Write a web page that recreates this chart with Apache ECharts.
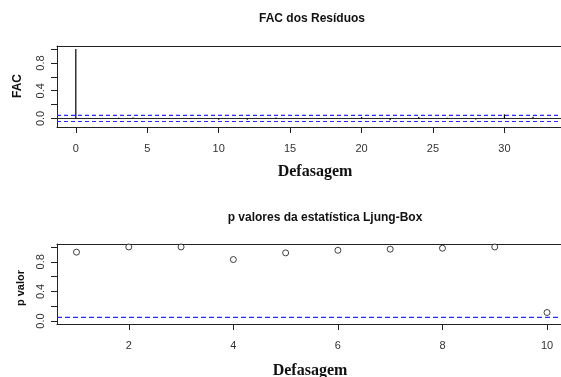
<!DOCTYPE html>
<html>
<head>
<meta charset="utf-8">
<script src="https://cdn.jsdelivr.net/npm/echarts@6/dist/echarts.min.js"></script>
<style>html,body{margin:0;padding:0;background:#fff}#c{width:561px;height:377px}</style>
</head>
<body>
<div id="c"></div>
<script>
// ---- data ----
const acfLags = [0,1,2,3,4,5,6,7,8,9,10,11,12,13,14,15,16,17,18,19,20,21,22,23,24,25,26,27,28,29,30,31,32,33];
const acfValues = [1.0,0.002,-0.003,0.01,0.015,0.0,-0.004,0.003,0.005,-0.002,-0.02,0.001,-0.02,0.002,0.015,0.0,0.004,-0.003,0.002,0.001,0.02,-0.002,-0.025,0.003,0.02,0.001,0.01,-0.002,-0.015,0.002,0.06,0.001,0.025,0.003];
const acfLimit = 0.044;
const acfXTicks = [0,5,10,15,20,25,30];
const yTicks = [0,0.2,0.4,0.6,0.8,1.0];
const yLabels = [0,0.4,0.8];
const pLags = [1,2,3,4,5,6,7,8,9,10];
const pValues = [0.93,1.0,1.0,0.83,0.92,0.955,0.97,0.983,1.0,0.115];
const pLimit = 0.05;
const pXTicks = [2,4,6,8,10];
const title1 = 'FAC dos Resíduos';
const title2 = 'p valores da estatística Ljung-Box';
const xName = 'Defasagem';
const yName1 = 'FAC';
const yName2 = 'p valor';

// axis extents
const acfXMin = -1.317, acfXMax = 33.96, acfYMin = -0.123, acfYMax = 1.045;
const pXMin = 0.627, pXMax = 10.267, pYMin = -0.04, pYMax = 1.04;

const chart = echarts.init(document.getElementById('c'), null, {renderer:'canvas'});
const axisCol = '#222';
const labelStyle = {color:'#333', fontFamily:'Liberation Sans, Arial, sans-serif', fontSize:11};
const blue = '#2b2bff';

function bottomX(gi, min, max, ticks){
  return {type:'value', gridIndex:gi, position:'bottom', min:min, max:max,
    axisLine:{show:true, onZero:false, lineStyle:{color:axisCol, width:1}},
    axisTick:{show:true, length:6, customValues:ticks, lineStyle:{color:axisCol}},
    axisLabel:Object.assign({show:true, margin:16, customValues:ticks}, labelStyle),
    splitLine:{show:false}};
}
function topX(gi, min, max){
  return {type:'value', gridIndex:gi, position:'top', min:min, max:max,
    axisLine:{show:true, onZero:false, lineStyle:{color:axisCol, width:1}},
    axisTick:{show:false}, axisLabel:{show:false}, splitLine:{show:false}};
}
function leftY(gi, min, max){
  return {type:'value', gridIndex:gi, min:min, max:max,
    axisLine:{show:true, onZero:false, lineStyle:{color:axisCol, width:1}},
    axisTick:{show:true, length:6, customValues:yTicks, lineStyle:{color:axisCol}},
    axisLabel:Object.assign({show:true, margin:11, rotate:90, customValues:yLabels,
      formatter:v=>Number(v).toFixed(1)}, labelStyle),
    splitLine:{show:false}};
}
function hLine(xi, yi, xmin, xmax, y, color, type, w){
  return {type:'line', xAxisIndex:xi, yAxisIndex:yi, data:[[xmin,y],[xmax,y]],
    showSymbol:false, symbol:'none', silent:true, z:3,
    lineStyle:{color:color, type:type, width:w}, itemStyle:{color:color}};
}

const option = {
  animation:false,
  backgroundColor:'#fff',
  grid:[
    {left:57, top:46, right:-5, height:81, containLabel:false},
    {left:57, top:244, right:-5, height:80, containLabel:false}
  ],
  xAxis:[
    bottomX(0, acfXMin, acfXMax, acfXTicks),
    topX(0, acfXMin, acfXMax),
    bottomX(1, pXMin, pXMax, pXTicks),
    topX(1, pXMin, pXMax)
  ],
  yAxis:[
    leftY(0, acfYMin, acfYMax),
    leftY(1, pYMin, pYMax)
  ],
  series:[
    hLine(0, 0, acfXMin, acfXMax, 0, '#222', 'solid', 1),
    hLine(0, 0, acfXMin, acfXMax, acfLimit, blue, [4,3], 1.2),
    hLine(0, 0, acfXMin, acfXMax, -acfLimit, blue, [4,3], 1.2),
    {type:'bar', xAxisIndex:0, yAxisIndex:0, barWidth:1.2, z:4,
      data:acfLags.map((l,i)=>[l, acfValues[i]]),
      itemStyle:{color:'#000'}},
    hLine(2, 1, pXMin, pXMax, pLimit, blue, [5,3], 1.2),
    {type:'scatter', xAxisIndex:2, yAxisIndex:1, symbol:'circle', symbolSize:6, z:4,
      data:pLags.map((l,i)=>[l, pValues[i]]),
      itemStyle:{color:'#fff', borderColor:'#111', borderWidth:1}}
  ],
  graphic:[
    {type:'text', x:312, y:19, style:{text:title1, textAlign:'center', textVerticalAlign:'middle', font:'bold 12px "Liberation Sans", Arial, sans-serif', fill:'#111'}},
    {type:'text', x:325, y:218, style:{text:title2, textAlign:'center', textVerticalAlign:'middle', font:'bold 12px "Liberation Sans", Arial, sans-serif', fill:'#111'}},
    {type:'text', x:315, y:172, style:{text:xName, textAlign:'center', textVerticalAlign:'middle', font:'bold 16px "Liberation Serif", "Times New Roman", serif', fill:'#111'}},
    {type:'text', x:310, y:371, style:{text:xName, textAlign:'center', textVerticalAlign:'middle', font:'bold 16px "Liberation Serif", "Times New Roman", serif', fill:'#111'}},
    {type:'text', x:18, y:86, rotation:Math.PI/2, style:{text:yName1, textAlign:'center', textVerticalAlign:'middle', font:'bold 12px "Liberation Sans", Arial, sans-serif', fill:'#111'}},
    {type:'text', x:21, y:288, rotation:Math.PI/2, style:{text:yName2, textAlign:'center', textVerticalAlign:'middle', font:'bold 11px "Liberation Sans", Arial, sans-serif', fill:'#111'}}
  ]
};
chart.setOption(option);
</script>
</body>
</html>
